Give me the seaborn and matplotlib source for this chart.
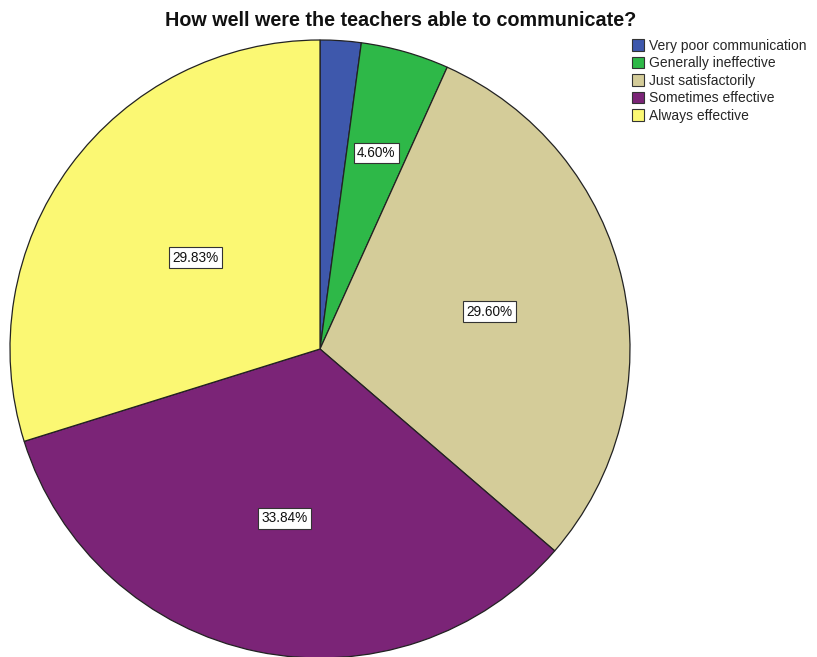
import matplotlib
matplotlib.use("Agg")
import numpy as np
import matplotlib.pyplot as plt
import seaborn as sns
from matplotlib.patches import Patch

categories = ["Very poor communication", "Generally ineffective", "Just satisfactorily",
              "Sometimes effective", "Always effective"]
percents = [2.13, 4.60, 29.60, 33.84, 29.83]
shown = [False, True, True, True, True]
label_dist = [0.6, 0.66, 0.56, 0.56, 0.50]
slice_colors = ["#3E58AC", "#2EB848", "#D4CC99", "#7B2477", "#FBF873"]

sns.set_theme(style="white")
plt.rcParams['font.family'] = ['Liberation Sans', 'DejaVu Sans']
palette = sns.color_palette(slice_colors)

fig = plt.figure(figsize=(8.17, 6.57), dpi=100)
ax = fig.add_axes([10 / 817, -1 / 657, 620 / 817, 618 / 657])

wedges, _ = ax.pie(percents, colors=palette, startangle=90, counterclock=False,
                   wedgeprops=dict(edgecolor="#222222", linewidth=0.9), radius=1.0)
ax.set_xlim(-1, 1)
ax.set_ylim(-1, 1)
ax.set_aspect("auto")

# labels at the middle of each slice
cum = np.cumsum([0] + percents[:-1])
for i, p in enumerate(percents):
    if not shown[i]:
        continue
    mid = np.deg2rad(90 - (cum[i] + p / 2) * 3.6)
    ax.text(label_dist[i] * np.cos(mid), label_dist[i] * np.sin(mid), f"{p:.2f}%",
            ha="center", va="center", fontsize=9.8, color="#111111",
            bbox=dict(boxstyle="square,pad=0.25", fc="white", ec="#333333", lw=0.8))

handles = [Patch(facecolor=c, edgecolor="#333333", linewidth=0.8) for c in palette]
fig.legend(handles, categories, loc="upper left", bbox_to_anchor=(632 / 817, 1 - 39 / 657),
           frameon=False, fontsize=10, handlelength=0.85, handleheight=0.9,
           handletextpad=0.35, labelspacing=0.25, borderaxespad=0, borderpad=0)

fig.text(401 / 817, 1 - 21 / 657, "How well were the teachers able to communicate?",
         ha="center", va="center", fontsize=14.2, fontweight="bold", color="#111111")

fig.savefig("out.png", dpi=100)
